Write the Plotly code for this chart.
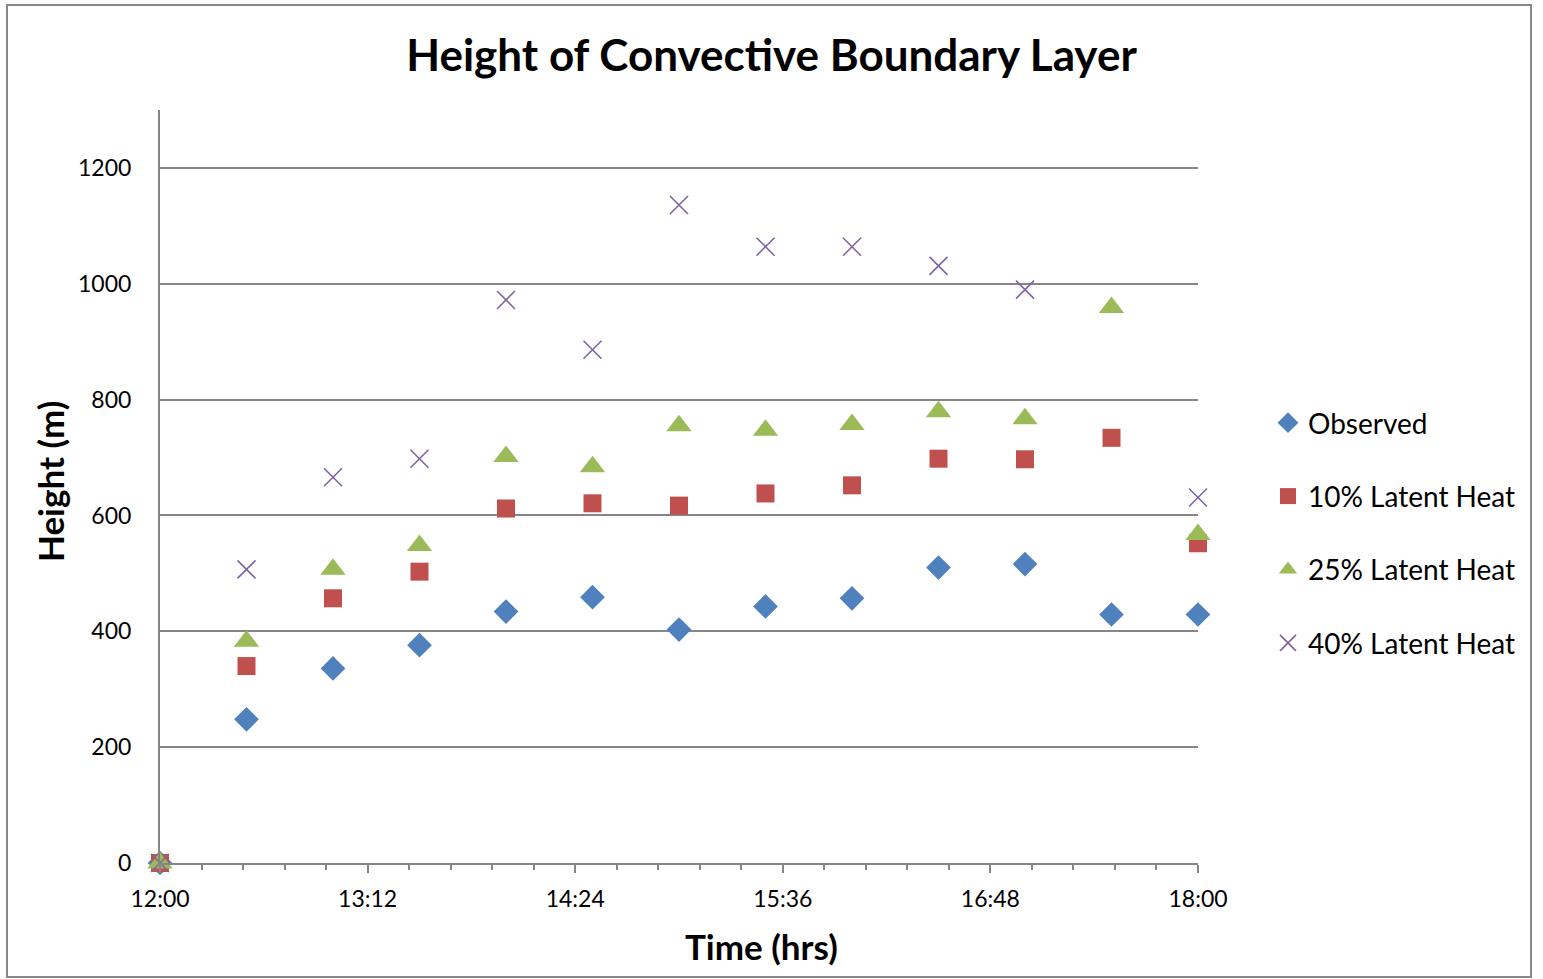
import plotly.graph_objects as go

times = ["12:00", "12:30", "13:00", "13:30", "14:00", "14:30", "15:00",
         "15:30", "16:00", "16:30", "17:00", "17:30", "18:00"]
observed = [0, 248, 336, 376, 434, 459, 403, 443, 457, 510, 516, 429, 429]
latent10 = [0, 340, 457, 503, 612, 621, 617, 638, 652, 698, 697, 734, 552]
latent25 = [0, 383, 507, 548, 702, 684, 755, 747, 757, 779, 767, 959, 567]
latent40 = [0, 507, 666, 698, 972, 886, 1136, 1064, 1064, 1031, 990, None, 631]

x = ["2000-01-01 " + t for t in times]

W, H = 1543, 979
L, R, T, B = 160, 1198, 110, 863
FONT = "Lato"

fig = go.Figure()
series = [
    ("Observed", observed, "diamond", 19, "#4F81BD"),
    ("10% Latent Heat", latent10, "square", 18, "#C0504D"),
    ("25% Latent Heat", latent25, "triangle-up", 22, "#9BBB59"),
    ("40% Latent Heat", latent40, "x-thin", 18, "#8064A2"),
]
for i, (name, ys, sym, size, col) in enumerate(series):
    if sym == "x-thin":
        marker = dict(symbol=sym, size=size, line=dict(color=col, width=1.6))
    else:
        marker = dict(symbol=sym, size=size, color=col, line=dict(width=0))
    fig.add_trace(go.Scatter(x=x, y=ys, mode="markers", name=name, marker=marker,
                             cliponaxis=False, legendgroup=str(i)))

fig.update_layout(
    width=W, height=H,
    margin=dict(l=L, r=W - R, t=T, b=H - B),
    paper_bgcolor="white", plot_bgcolor="white",
    font=dict(family=FONT, color="black", size=23),
    title=dict(text="<b>Height of Convective Boundary Layer</b>", x=0.5, xref="container",
               y=1 - 56 / H, yref="container", yanchor="middle", xanchor="center",
               font=dict(size=44, family=FONT)),
    showlegend=True,
    legend=dict(x=(1268 - L) / (R - L), xanchor="left", y=(B - 398) / (B - T), yanchor="top",
                font=dict(size=28, family=FONT), tracegroupgap=34, itemsizing="trace",
                itemwidth=30, bgcolor="rgba(0,0,0,0)"),
    xaxis=dict(
        type="date", range=["2000-01-01 12:00", "2000-01-01 18:00"],
        tick0="2000-01-01 12:00", dtick=72 * 60 * 1000, tickformat="%H:%M",
        showgrid=False, zeroline=False, showline=True, linecolor="#868686", linewidth=2,
        ticks="outside", ticklen=8, tickcolor="#868686", tickwidth=2,
        minor=dict(dtick=14.4 * 60 * 1000, tick0="2000-01-01 12:00", ticks="outside",
                   ticklen=5, tickcolor="#868686", tickwidth=2, showgrid=False),
        tickfont=dict(size=23), ticklabelstandoff=6, fixedrange=True,
    ),
    yaxis=dict(
        range=[0, 1300], dtick=200, tick0=0, showgrid=True, gridcolor="#868686", gridwidth=2,
        zeroline=False, showline=True, linecolor="#868686", linewidth=2, ticks="",
        ticklabelstandoff=22, tickfont=dict(size=23),
    ),
    annotations=[
        dict(text="<b>Time (hrs)</b>", xref="paper", yref="paper",
             x=(761 - L) / (R - L), y=(B - 946) / (B - T), xanchor="center", yanchor="middle",
             showarrow=False, font=dict(size=35, family=FONT)),
        dict(text="<b>Height (m)</b>", xref="paper", yref="paper",
             x=(50 - L) / (R - L), y=(B - 482) / (B - T), xanchor="center", yanchor="middle",
             textangle=-90, showarrow=False, font=dict(size=35, family=FONT)),
    ],
    shapes=[
        dict(type="rect", xref="paper", yref="paper",
             x0=(7 - L) / (R - L), x1=(1531 - L) / (R - L),
             y0=(B - 977) / (B - T), y1=(B - 5) / (B - T),
             line=dict(color="#888888", width=2), fillcolor="rgba(0,0,0,0)"),
    ],
)

fig.write_html("out.html")
